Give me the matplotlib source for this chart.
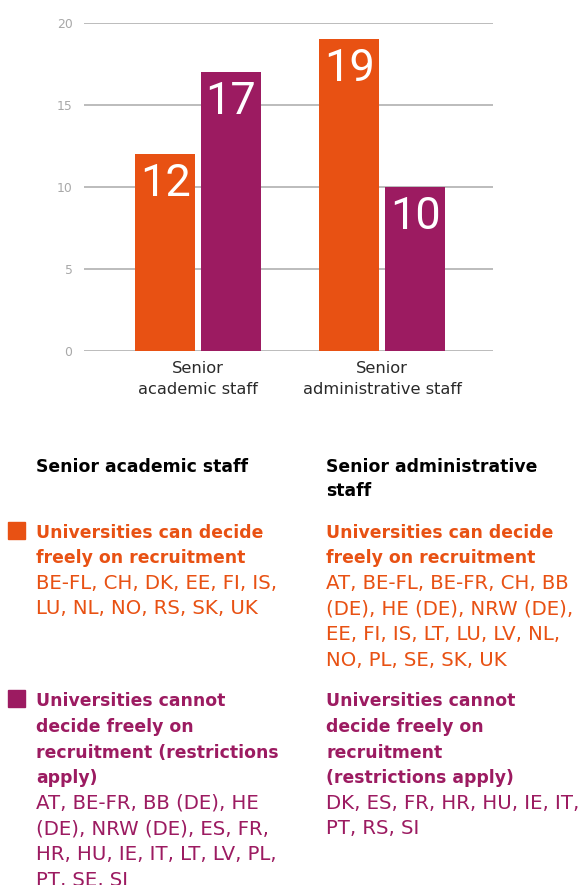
import matplotlib
matplotlib.use("Agg")
import matplotlib.pyplot as plt
import numpy as np

# data
categories = ["Senior\nacademic staff", "Senior\nadministrative staff"]
free = [12, 19]
restricted = [17, 10]
yticks = [0, 5, 10, 15, 20]

headings = [["Senior academic staff"], ["Senior administrative", "staff"]]
free_title = [["Universities can decide", "freely on recruitment"],
              ["Universities can decide", "freely on recruitment"]]
free_list = [["BE-FL, CH, DK, EE, FI, IS,", "LU, NL, NO, RS, SK, UK"],
             ["AT, BE-FL, BE-FR, CH, BB", "(DE), HE (DE), NRW (DE),",
              "EE, FI, IS, LT, LU, LV, NL,", "NO, PL, SE, SK, UK"]]
restr_title = [["Universities cannot", "decide freely on", "recruitment (restrictions", "apply)"],
               ["Universities cannot", "decide freely on", "recruitment", "(restrictions apply)"]]
restr_list = [["AT, BE-FR, BB (DE), HE", "(DE), NRW (DE), ES, FR,",
               "HR, HU, IE, IT, LT, LV, PL,", "PT, SE, SI"],
              ["DK, ES, FR, HR, HU, IE, IT,", "PT, RS, SI"]]

ORANGE = "#E85113"
PURPLE = "#9C1B61"
W, H = 579, 885

plt.rcParams["font.family"] = ["DejaVu Sans"]

fig = plt.figure(figsize=(W / 100, H / 100), dpi=100)
ax = fig.add_axes([83.5 / W, 1 - 351 / H, (493 - 83.5) / W, (351 - 22.7) / H])

x = np.arange(len(categories))
bw = 0.326
off = 0.179
b1 = ax.bar(x - off, free, bw, color=ORANGE, zorder=3)
b2 = ax.bar(x + off, restricted, bw, color=PURPLE, zorder=3)

for bars in (b1, b2):
    for b in bars:
        ax.text(b.get_x() + b.get_width() / 2, b.get_height() - 2.55,
                str(int(b.get_height())), ha="center", va="baseline",
                color="white", fontsize=32.5, family=["Roboto", "DejaVu Sans"], zorder=4)

ax.set_xlim(-0.623, 1.603)
ax.set_ylim(0, 20)
ax.set_yticks(yticks)
ax.yaxis.grid(True, color="#b6b6b6", linewidth=1.3, zorder=0)
ax.set_axisbelow(True)
ax.tick_params(axis="y", length=0, pad=8, labelsize=8.9, labelcolor="#a8a8a8")
ax.tick_params(axis="x", length=0, pad=7.5)
ax.set_xticks(x)
ax.set_xticklabels(categories, fontsize=11.7, color="#2a2a2a", linespacing=1.5)
for s in ax.spines.values():
    s.set_visible(False)


def put_lines(px, base, lines, **kw):
    # one text per line, baselines 25.6 px apart
    for k, line in enumerate(lines):
        fig.text(px / W, 1 - (base + k * 25.6) / H, line,
                 va="baseline", ha="left", **kw)
    return base + len(lines) * 25.6


cols = [36.5, 326]
for i, cx in enumerate(cols):
    for k, line in enumerate(headings[i]):
        fig.text(cx / W, 1 - (471.7 + k * 24) / H, line, va="baseline",
                 ha="left", fontsize=12.4, fontweight="bold", color="black")
    nb = put_lines(cx, 537.5, free_title[i], fontsize=12.4, fontweight="bold", color=ORANGE)
    put_lines(cx, nb, free_list[i], fontsize=14.2, color=ORANGE)
    nb = put_lines(cx, 706.5, restr_title[i], fontsize=12.4, fontweight="bold", color=PURPLE)
    put_lines(cx, nb, restr_list[i], fontsize=14.2, color=PURPLE)

fig.patches.append(plt.Rectangle((8 / W, 1 - 539 / H), 17 / W, 17 / H,
                                 transform=fig.transFigure, color=ORANGE))
fig.patches.append(plt.Rectangle((8 / W, 1 - 707 / H), 17 / W, 17 / H,
                                 transform=fig.transFigure, color=PURPLE))

fig.savefig("out.png", dpi=100)
